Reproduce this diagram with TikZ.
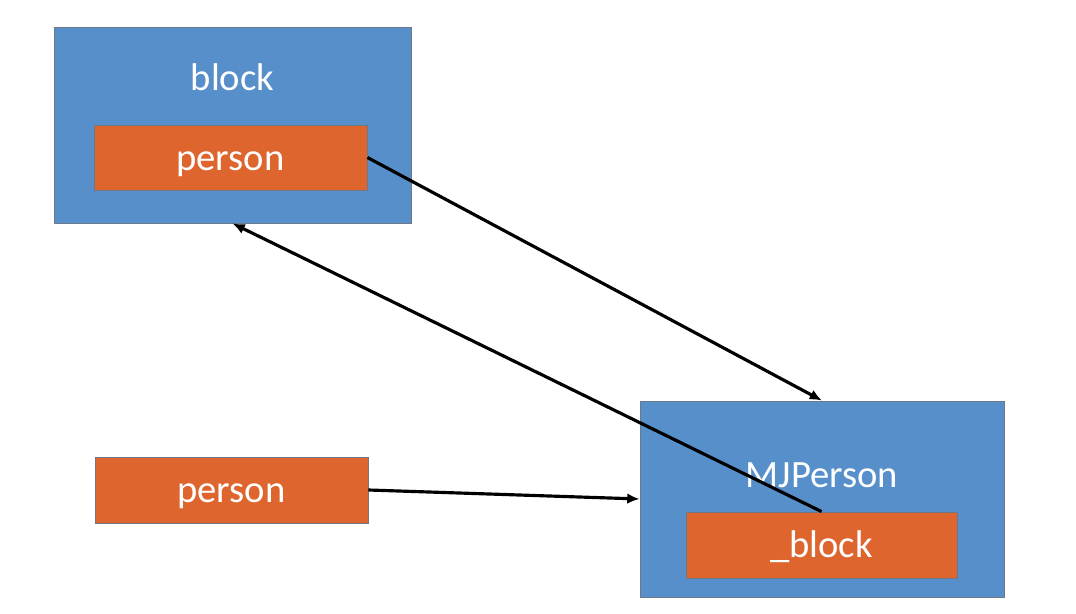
\documentclass[tikz,border=0pt]{standalone}
\usepackage{fontspec}
\setmainfont{Carlito}
\usepackage{tikz}
\usepackage{xcolor}
\usetikzlibrary{positioning,arrows.meta}
\definecolor{boxblue}{RGB}{87,143,202}
\definecolor{boxorange}{RGB}{222,101,46}
\definecolor{rimgray}{RGB}{110,120,135}

\begin{document}
\begin{tikzpicture}[x=0.02cm,y=-0.02cm]
\tikzstyle{every node}+=[inner sep=0pt,text height=19.4pt,text depth=4.8pt]
\tikzstyle{outer}=[draw=rimgray,line width=0.5pt,fill=boxblue]
\tikzstyle{field}=[draw=rimgray,line width=0.5pt,fill=boxorange,text=white,font=\fontsize{22}{24}\selectfont]
\tikzstyle{title}=[text=white,font=\fontsize{22}{24}\selectfont]
\tikzstyle{link}=[black,line width=1.8pt,-{Latex[length=7pt,width=6pt]}]
\useasboundingbox (0,0) rectangle (1076,614);
% block object
\node [outer,minimum width=7.14cm,minimum height=3.92cm] (blk) at (232.5,125) {};
\node [title] (blktitle) at (232.5,77.5) {block};
\node [field,minimum width=5.46cm,minimum height=1.3cm] (blkperson) at (230.5,157.5) {person};
% MJPerson object
\node [outer,minimum width=7.28cm,minimum height=3.92cm] (mj) at (822,499) {};
\node [title] (mjtitle) at (822,474.5) {MJPerson};
\node [field,minimum width=5.42cm,minimum height=1.32cm] (mjblock) at (821.5,545) {\_block};
% local variable
\node [field,minimum width=5.46cm,minimum height=1.32cm] (person) at (231.5,490) {person};
% references
\draw [link] (blkperson.east) -- (mj.north);
\draw [link] (mjblock.north) -- (blk.south);
\draw [link] (person.east) -- (mj.west);
\end{tikzpicture}
\end{document}
